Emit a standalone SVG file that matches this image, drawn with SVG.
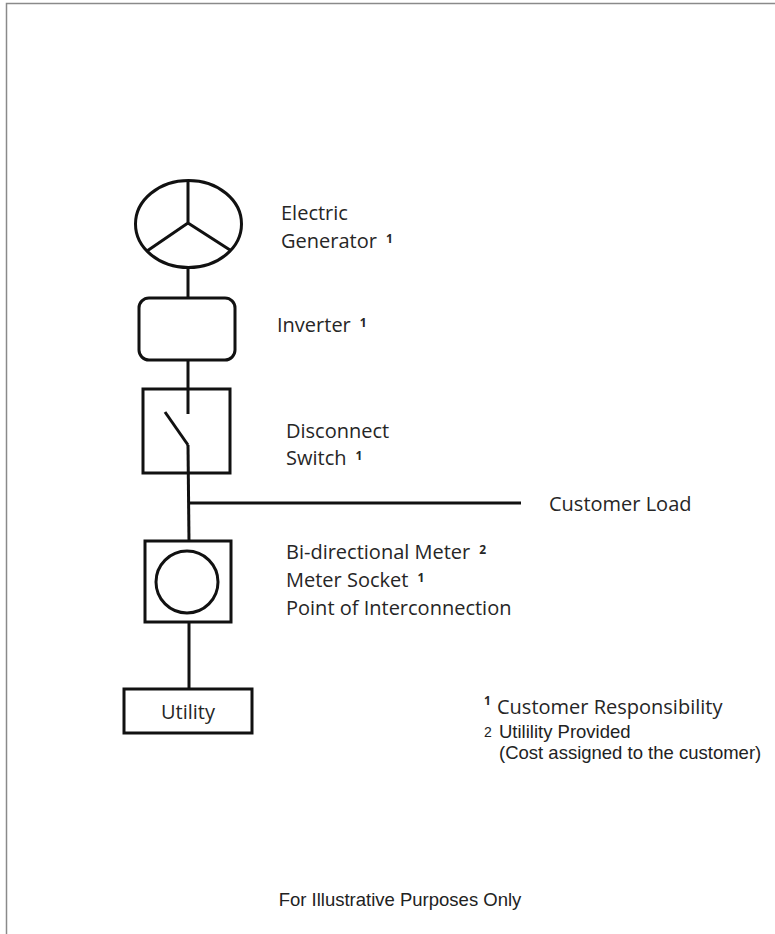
<svg xmlns="http://www.w3.org/2000/svg" width="775" height="934" viewBox="0 0 775 934">
<style>
.sh{fill:none;stroke:#111;stroke-width:3}
.ln{fill:none;stroke:#111;stroke-width:3}
.lb{font-family:"Open Sans","Noto Sans",sans-serif;font-size:20px;fill:#262626}
.sup{font-size:12px;font-weight:bold}
.ar{font-family:"Liberation Sans",Arial,sans-serif;fill:#222}
</style>
<rect width="775" height="934" fill="#fff"/>
<path d="M6.5 934V3.5H775" fill="none" stroke="#8a8a8a" stroke-width="1.5"/>
<g id="connectors">
<line class="ln" x1="188" y1="267" x2="188" y2="298"/>
<line class="ln" x1="188" y1="360" x2="188" y2="414"/>
<line class="ln" x1="188" y1="445" x2="189" y2="541"/>
<line class="ln" x1="189" y1="503" x2="521" y2="503"/>
<line class="ln" x1="189" y1="622" x2="189" y2="689"/>
</g>
<g id="generator">
<ellipse class="sh" cx="188.5" cy="224" rx="53" ry="43.5"/>
<path class="sh" d="M188 180.5V223L147 251M188 223L230 250"/>
<text class="lb" x="281" y="220">Electric</text>
<text class="lb" x="281" y="248">Generator<tspan class="sup" dx="9" dy="-5">1</tspan></text>
</g>
<g id="inverter">
<rect class="sh" x="139" y="298" width="96" height="62" rx="10"/>
<text class="lb" x="277" y="332">Inverter<tspan class="sup" dx="9" dy="-5">1</tspan></text>
</g>
<g id="switch">
<rect class="sh" x="143" y="389" width="87" height="84"/>
<line class="ln" x1="165" y1="412" x2="188" y2="445"/>
<text class="lb" x="286" y="438">Disconnect</text>
<text class="lb" x="286" y="465">Switch<tspan class="sup" dx="9" dy="-5">1</tspan></text>
</g>
<g id="customer-load">
<text class="lb" x="549" y="511">Customer Load</text>
</g>
<g id="meter">
<rect class="sh" x="145" y="541" width="86" height="81"/>
<circle class="sh" cx="187" cy="582" r="31"/>
<text class="lb" x="286" y="559">Bi-directional Meter<tspan class="sup" dx="9" dy="-5">2</tspan></text>
<text class="lb" x="286" y="587">Meter Socket<tspan class="sup" dx="9" dy="-5">1</tspan></text>
<text class="lb" x="286" y="615">Point of Interconnection</text>
</g>
<g id="utility">
<rect class="sh" x="124" y="689" width="128" height="44"/>
<text class="lb" x="188" y="719" text-anchor="middle">Utility</text>
</g>
<g id="legend">
<text class="lb sup" x="484" y="705">1</text>
<text class="lb" x="497" y="714">Customer Responsibility</text>
<text class="ar" x="484" y="737" font-size="14px">2</text>
<text class="ar" x="499" y="738" font-size="18.5px">Utilility Provided</text>
<text class="ar" x="499" y="759" font-size="18.5px">(Cost assigned to the customer)</text>
</g>
<text class="ar" x="400" y="906" font-size="18.5px" text-anchor="middle">For Illustrative Purposes Only</text>
</svg>
